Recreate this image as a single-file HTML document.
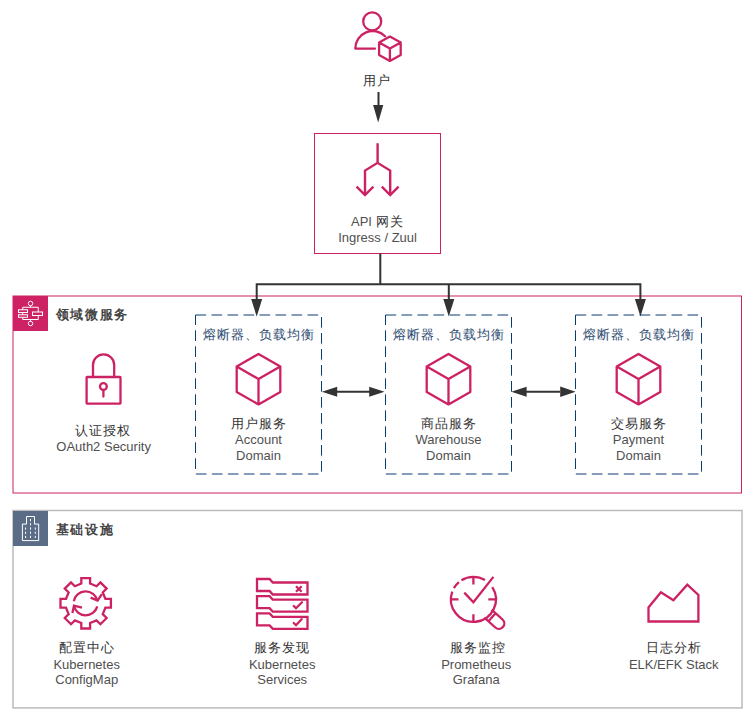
<!DOCTYPE html>
<html><head><meta charset="utf-8">
<style>
html,body{margin:0;padding:0;background:#fff;}
svg{display:block;}
text{font-family:"Liberation Sans",sans-serif;font-size:13px;fill:#505050;}
.cn{font-size:12.5px;letter-spacing:1px;fill:#333;}
.tt{font-size:12.5px;font-weight:bold;letter-spacing:1.7px;fill:#444;}
.blue{fill:#2c4a70;font-size:12.5px;letter-spacing:1px;}
.pk{fill:none;stroke:#cc2264;stroke-width:2.3;stroke-linejoin:round;stroke-linecap:round;}
.wh{fill:none;stroke:#fff;stroke-width:1;}
.dk{fill:none;stroke:#333;stroke-width:2;}
.dash{fill:none;stroke:#083b70;stroke-width:1;stroke-dasharray:10.67 5.33;}
</style></head>
<body>
<svg width="755" height="720" viewBox="0 0 755 720">
<rect x="0" y="0" width="755" height="720" fill="#fff"/>

<!-- ===== User icon ===== -->
<g class="pk">
  <circle cx="372.2" cy="21.4" r="9"/>
  <path d="M375,48.6 L355.3,48.6 A17.4,17.4 0 0 1 385.1,36.3"/>
  <path d="M389.9,36.6 L400.7,42.5 L400.7,55 L389.9,60.9 L379.1,55 L379.1,42.5 Z M379.1,42.5 L389.9,48.4 L400.7,42.5 M389.9,48.4 L389.9,60.9"/>
</g>
<text x="377.4" y="85" text-anchor="middle" class="cn">用户</text>

<!-- arrow user -> gateway -->
<line x1="378.5" y1="92" x2="378.5" y2="106" class="dk"/>
<polygon points="373.1,105 383.3,105 378.2,122.5" fill="#333"/>

<!-- ===== API Gateway ===== -->
<rect x="314.5" y="133.5" width="126" height="120" fill="none" stroke="#cc2264" stroke-width="1"/>
<g class="pk" style="stroke-linecap:butt;stroke-linejoin:miter;stroke-width:2.4">
  <path d="M377.6,143.3 L377.6,162.8 M365,195 L365,170.6 L377.6,162.8 L390.2,170.6 L390.2,195"/>
  <path d="M356.6,186.6 L365,195 L373.4,186.6 M381.8,186.6 L390.2,195 L398.6,186.6"/>
</g>
<text x="351" y="226">API</text><text x="375.8" y="226" class="cn">网关</text>
<text x="377.6" y="241.5" text-anchor="middle">Ingress / Zuul</text>

<!-- ===== Group 1 ===== -->
<rect x="13" y="296" width="728.5" height="197" fill="none" stroke="#cc2264" stroke-width="1"/>
<!-- connectors -->
<path d="M380.3,253.5 L380.3,284.2 M256.7,300 L256.7,284.2 L640.4,284.2 L640.4,300 M448.8,284.2 L448.8,300" class="dk"/>
<polygon points="251.2,299 262.2,299 256.7,316.6" fill="#333"/>
<polygon points="443.3,299 454.3,299 448.8,316.6" fill="#333"/>
<polygon points="634.9,299 645.9,299 640.4,316.6" fill="#333"/>

<rect x="13" y="296" width="35" height="35" fill="#cd2264"/>
<g class="wh">
  <circle cx="30.5" cy="303.5" r="2.25"/>
  <circle cx="30.5" cy="323.5" r="2.25"/>
  <path d="M30.5,305.75 L30.5,307.25 M22.75,309.75 L22.75,307.25 L38.25,307.25 L38.25,312 M22.75,312.5 L22.75,314.75 M22.75,317.25 L22.75,319.5 L38.25,319.5 L38.25,315.5 M30.5,319.5 L30.5,321.25"/>
  <rect x="18.5" y="309.75" width="9" height="2.75"/>
  <rect x="18.5" y="314.75" width="9" height="2.5"/>
  <rect x="32.5" y="312" width="10" height="3.5"/>
</g>
<text x="55.6" y="319.3" class="tt">领域微服务</text>

<!-- lock -->
<g class="pk">
  <rect x="86.6" y="377" width="33.9" height="26.6" rx="0.5"/>
  <path d="M93,377 L93,365 A10.6,10.6 0 0 1 114.2,365 L114.2,377"/>
  <circle cx="103.4" cy="386.5" r="3.4"/>
  <path d="M103.4,390 L103.4,396.5"/>
</g>
<text x="103.4" y="435" text-anchor="middle" class="cn">认证授权</text>
<text x="103.6" y="451.2" text-anchor="middle">OAuth2 Security</text>

<!-- dashed boxes -->
<rect x="195.5" y="315" width="126" height="159" class="dash"/>
<rect x="385.5" y="315" width="126" height="159" class="dash"/>
<rect x="575.5" y="315" width="126" height="159" class="dash"/>
<text x="258.5" y="339" text-anchor="middle" class="blue">熔断器、负载均衡</text>
<text x="448.5" y="339" text-anchor="middle" class="blue">熔断器、负载均衡</text>
<text x="638.5" y="339" text-anchor="middle" class="blue">熔断器、负载均衡</text>

<!-- cubes -->
<g class="pk">
  <path d="M258.5,354 L280.3,366.4 L280.3,392 L258.5,404.4 L236.7,392 L236.7,366.4 Z M236.7,366.4 L258.5,379 L280.3,366.4 M258.5,379 L258.5,404.4"/>
  <path d="M448.5,354 L470.3,366.4 L470.3,392 L448.5,404.4 L426.7,392 L426.7,366.4 Z M426.7,366.4 L448.5,379 L470.3,366.4 M448.5,379 L448.5,404.4"/>
  <path d="M638.5,354 L660.3,366.4 L660.3,392 L638.5,404.4 L616.7,392 L616.7,366.4 Z M616.7,366.4 L638.5,379 L660.3,366.4 M638.5,379 L638.5,404.4"/>
</g>
<text x="258.5" y="427.5" text-anchor="middle" class="cn">用户服务</text>
<text x="258.5" y="443.7" text-anchor="middle">Account</text>
<text x="258.5" y="459.8" text-anchor="middle">Domain</text>
<text x="448.5" y="427.5" text-anchor="middle" class="cn">商品服务</text>
<text x="448.5" y="443.7" text-anchor="middle">Warehouse</text>
<text x="448.5" y="459.8" text-anchor="middle">Domain</text>
<text x="638.5" y="427.5" text-anchor="middle" class="cn">交易服务</text>
<text x="638.5" y="443.7" text-anchor="middle">Payment</text>
<text x="638.5" y="459.8" text-anchor="middle">Domain</text>

<!-- double arrows -->
<line x1="336" y1="391.8" x2="370" y2="391.8" class="dk"/>
<polygon points="321.9,391.8 337.2,386.8 337.2,396.8" fill="#333"/>
<polygon points="384.5,391.8 369.2,386.8 369.2,396.8" fill="#333"/>
<line x1="526" y1="391.8" x2="560" y2="391.8" class="dk"/>
<polygon points="511.3,391.8 526.6,386.8 526.6,396.8" fill="#333"/>
<polygon points="575.6,391.8 560.2,386.6 560.2,397" fill="#333"/>

<!-- ===== Group 2 ===== -->
<rect x="13" y="510.5" width="729" height="197.4" fill="none" stroke="#bbb" stroke-width="1.5"/>
<rect x="13" y="511" width="35" height="35" fill="#5a6c86"/>
<g class="wh">
  <path d="M26.5,524.1 L26.5,516.5 L34.5,516.5 L34.5,524.1 L38.7,524.1 L38.7,540.6 L22.4,540.6 L22.4,524.1 Z"/>
  <path d="M30.5,519 L30.5,538 M25.6,527.5 L25.6,538 M35.3,527.5 L35.3,538" stroke-dasharray="2.2 2"/>
</g>
<text x="55.6" y="533.8" class="tt">基础设施</text>

<!-- config icon -->
<g class="pk" style="stroke-linejoin:miter">
  <path d="M81.30,583.59 L81.30,578.10 L90.10,578.10 L90.10,583.59 L96.53,586.25 L100.41,582.37 L106.63,588.59 L102.75,592.47 L105.41,598.90 L110.90,598.90 L110.90,607.70 L105.41,607.70 L102.75,614.13 L106.63,618.01 L100.41,624.23 L96.53,620.35 L90.10,623.01 L90.10,628.50 L81.30,628.50 L81.30,623.01 L74.87,620.35 L70.99,624.23 L64.77,618.01 L68.65,614.13 L65.99,607.70 L60.50,607.70 L60.50,598.90 L65.99,598.90 L68.65,592.47 L64.77,588.59 L70.99,582.37 L74.87,586.25 Z"/>
</g>
<g class="pk" style="stroke-linecap:butt">
  <path d="M73.88,601.22 A12.0,12.0 0 0 1 97.39,600.60"/>
  <path d="M97.29,606.41 A12.0,12.0 0 0 1 73.96,605.79"/>
  <path d="M90.6,597.6 L97.6,600.6 L101.8,594.2 M82,607.6 L74,605.6 L72.4,613" style="stroke-linejoin:miter"/>
</g>
<text x="86.5" y="652.3" text-anchor="middle" class="cn">配置中心</text>
<text x="86.7" y="668.8" text-anchor="middle">Kubernetes</text>
<text x="86.7" y="684.3" text-anchor="middle">ConfigMap</text>

<!-- services icon -->
<g class="pk" style="stroke-linejoin:miter">
  <path d="M257,579 L269.6,579 L272.8,582.5 L307.5,582.5 L307.5,594.5 L272.8,594.5 L269.6,591 L257,591 Z"/>
  <path d="M257,596.2 L269.6,596.2 L272.8,599.7 L307.5,599.7 L307.5,611.7 L272.8,611.7 L269.6,608.2 L257,608.2 Z"/>
  <path d="M257,613.4 L269.6,613.4 L272.8,616.9 L307.5,616.9 L307.5,628.9 L272.8,628.9 L269.6,625.4 L257,625.4 Z"/>
  <path d="M296,586.2 L301.6,591.8 M301.6,586.2 L296,591.8" style="stroke-linecap:butt"/>
  <path d="M293.7,606 L296,608.2 L302,602.3"/>
  <path d="M293.7,623 L296,625.2 L301.6,619.2"/>
</g>
<text x="282.2" y="652.3" text-anchor="middle" class="cn">服务发现</text>
<text x="282.2" y="668.8" text-anchor="middle">Kubernetes</text>
<text x="282.2" y="684.3" text-anchor="middle">Services</text>

<!-- monitor icon -->
<g class="pk" style="stroke-linecap:butt">
  <path d="M492.27,587.15 A22.5,22.5 0 1 1 452.26,591.70 M453.91,588.15 A22.5,22.5 0 0 1 458.94,582.16 M461.48,580.32 A22.5,22.5 0 0 1 484.99,580.11"/>
  <path d="M473.4,577 L473.4,584.6 M450.9,599.4 L458.5,599.4 M488.3,599.4 L495.9,599.4 M473.4,614.2 L473.4,621.8"/>
  <path d="M464.3,592.6 L473.4,602.2 L493.4,576.9" style="stroke-linejoin:miter"/>
  <path d="M484.39,617.66 L495.32,627.50 A5.4,5.4 0 0 0 502.54,619.47 L491.62,609.64 M488.41,621.28 L495.63,613.25"/>
</g>
<text x="477.5" y="652.3" text-anchor="middle" class="cn">服务监控</text>
<text x="476.2" y="668.8" text-anchor="middle">Prometheus</text>
<text x="476.2" y="684.3" text-anchor="middle">Grafana</text>

<!-- chart icon -->
<g class="pk" style="stroke-linejoin:miter">
  <path d="M648.5,621.5 L648.5,607.4 L660.9,592.2 L673.4,600.2 L687.3,584.7 L698.4,594.9 L698.4,621.5 Z"/>
</g>
<text x="673.7" y="652.3" text-anchor="middle" class="cn">日志分析</text>
<text x="673.7" y="668.5" text-anchor="middle">ELK/EFK Stack</text>

</svg>
</body></html>
